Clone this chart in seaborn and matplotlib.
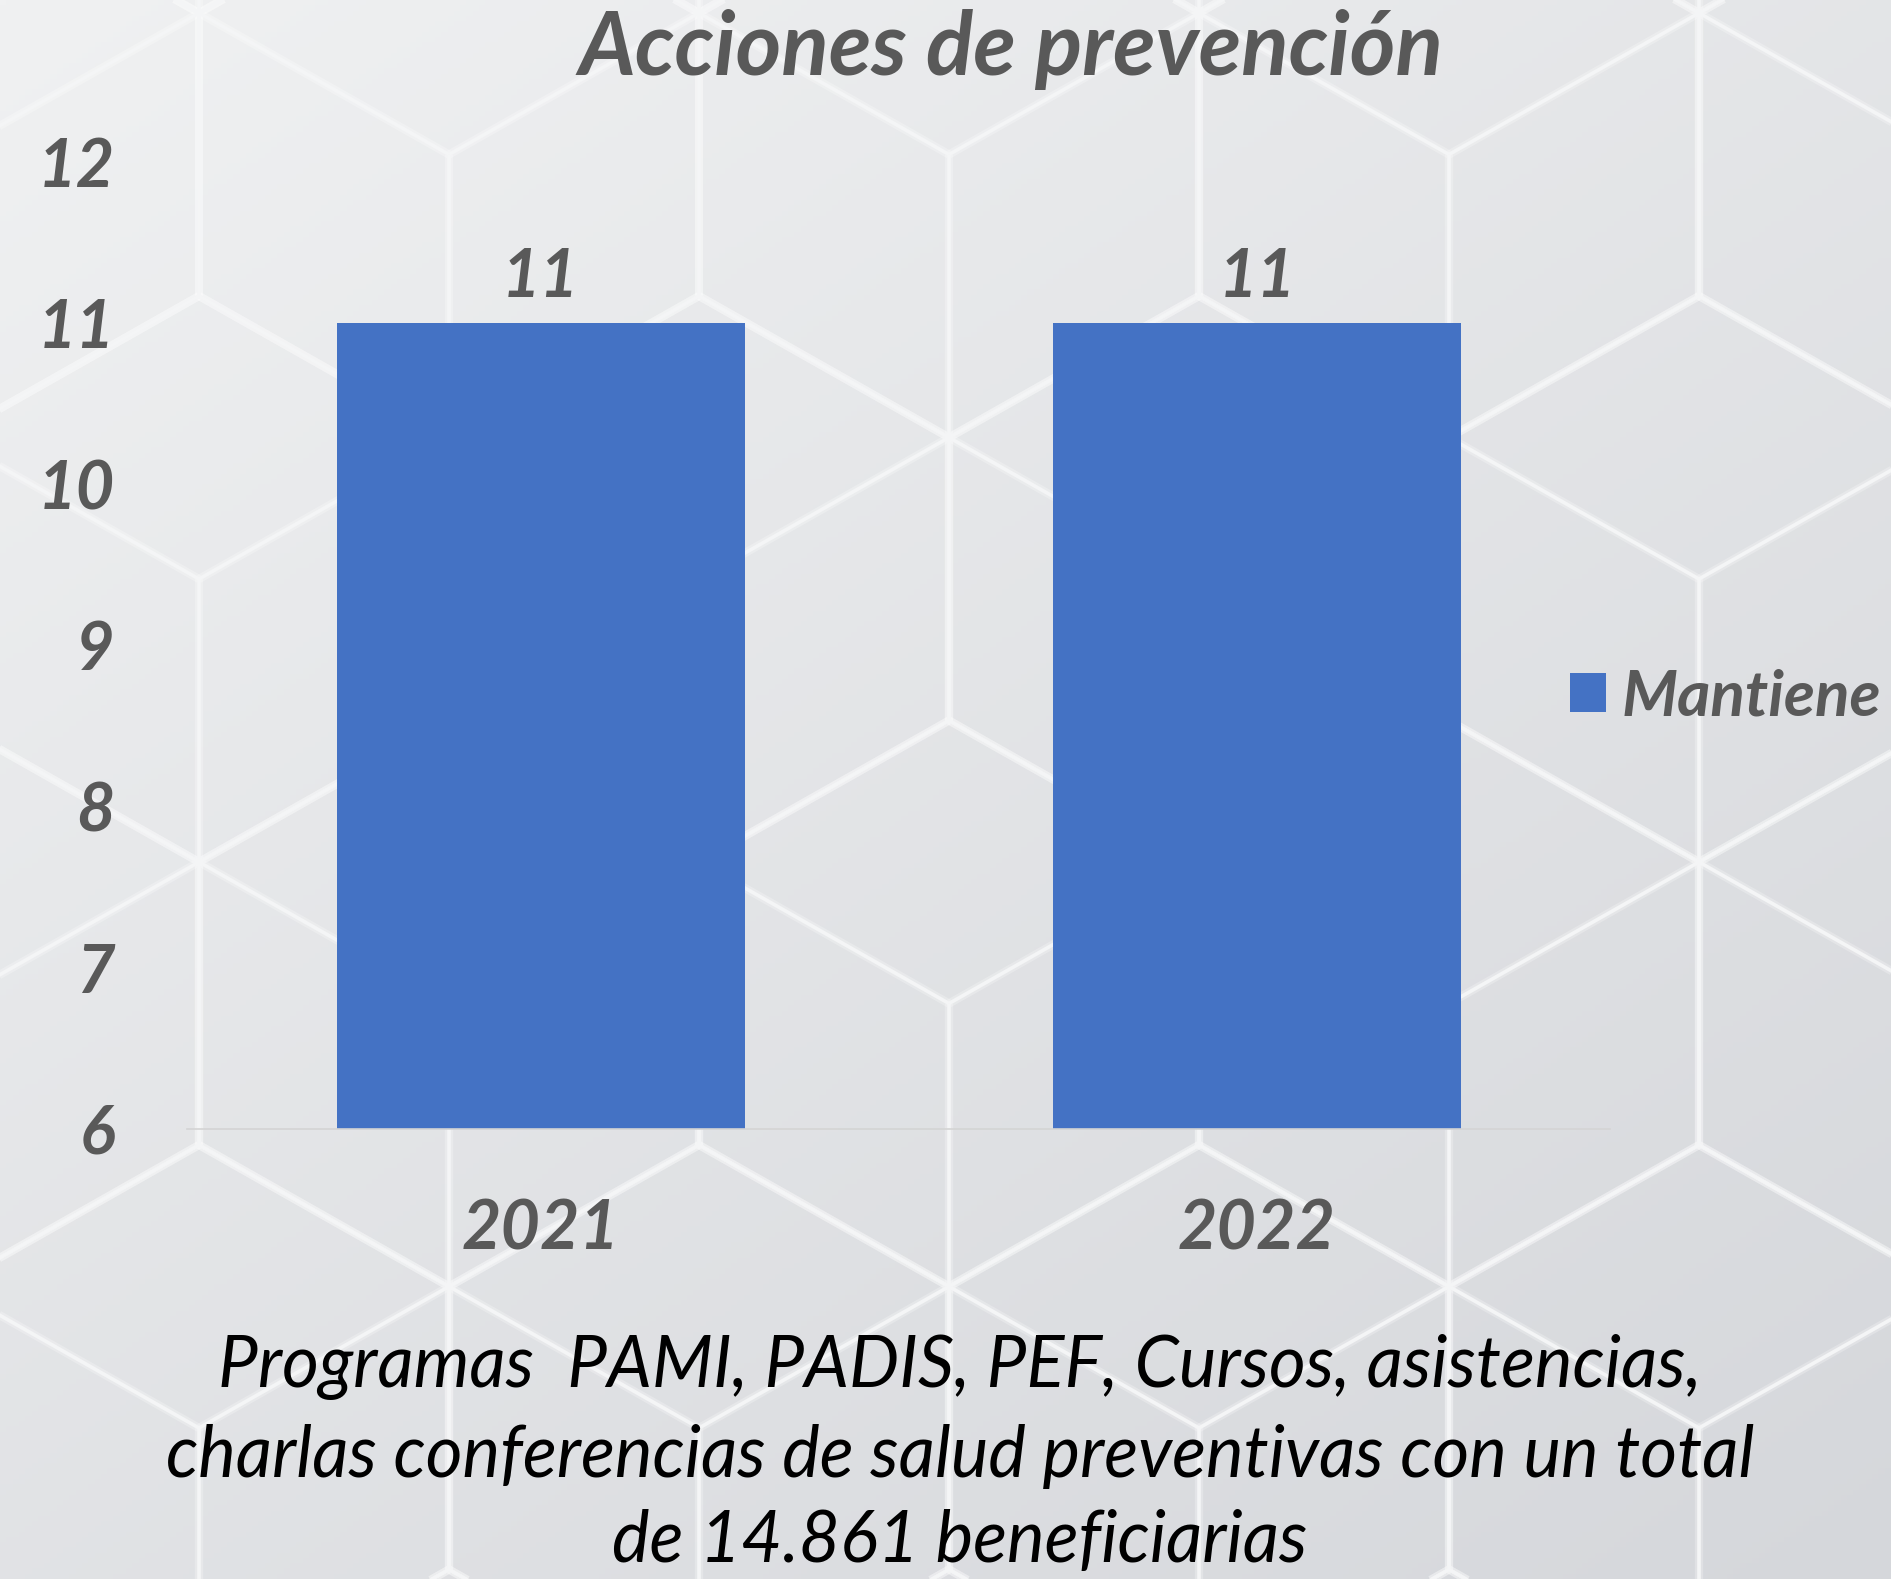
import numpy as np
import pandas as pd

import matplotlib
matplotlib.use("Agg")

import matplotlib.pyplot as plt
from matplotlib.collections import LineCollection
import seaborn as sns

# ===========================
# Data
# ===========================

years = ["2021", "2022"]
values = [11, 11]
series = ["Mantiene", "Mantiene"]
y_ticks = [6, 7, 8, 9, 10, 11, 12]

title = "Acciones de prevención"
note_lines = [
    "Programas  PAMI, PADIS, PEF, Cursos, asistencias,",
    "charlas conferencias de salud preventivas con un total",
    "de 14.861 beneficiarias",
]

df = pd.DataFrame({"year": years, "value": values, "serie": series})

# ===========================
# Style
# ===========================

bar_color = "#4472C4"
text_gray = "#595959"

W, H = 1891, 1579

sns.set_style("white")
plt.rcParams["font.family"] = ["Lato", "DejaVu Sans"]

fig = plt.figure(figsize=(W / 100, H / 100), dpi=100)

# ===========================
# Background (gradient + cube pattern)
# ===========================

bg = fig.add_axes([0, 0, 1, 1], zorder=0)
xx, yy = np.meshgrid(np.linspace(0, 1, 300), np.linspace(0, 1, 300))
t = 0.55 * yy + 0.45 * xx
c_top = np.array([240, 241, 242]) / 255
c_bot = np.array([213, 215, 219]) / 255
img = c_top + (c_bot - c_top) * t[..., None]
bg.imshow(img, extent=[0, W, H, 0], aspect="auto")

hw, s = 250, 283
segs = []
for j in range(-2, 6):
    for i in range(-2, 6):
        cx = 199 + 2 * hw * i + (hw if j % 2 else 0)
        cy = 579 + 1.5 * s * j
        v = [(cx, cy - s), (cx + hw, cy - s / 2), (cx + hw, cy + s / 2),
             (cx, cy + s), (cx - hw, cy + s / 2), (cx - hw, cy - s / 2)]
        for k in range(6):
            segs.append([v[k], v[(k + 1) % 6]])
        segs.append([(cx, cy), v[5]])
        segs.append([(cx, cy), v[1]])
        segs.append([(cx, cy), v[3]])
bg.add_collection(LineCollection(segs, colors="white", linewidths=6, alpha=0.25))
bg.add_collection(LineCollection(segs, colors="#f4f5f6", linewidths=2.6))
bg.set_xlim(0, W)
bg.set_ylim(H, 0)
bg.axis("off")

# ===========================
# Bar chart
# ===========================

ax = fig.add_axes([187 / W, 1 - 1129 / H, (1610 - 187) / W, (1129 - 162) / H], zorder=1)
ax.patch.set_alpha(0)

sns.barplot(
    data=df,
    x="year",
    y="value",
    hue="serie",
    palette=[bar_color],
    saturation=1,
    width=0.57,
    linewidth=0,
    ax=ax,
)

ax.set_ylim(6, 12)
ax.set_xlim(-0.494, 1.493)
ax.set_yticks(y_ticks)
ax.set_yticklabels([str(v) for v in y_ticks])
ax.set_xlabel("")
ax.set_ylabel("")

for lab in ax.get_yticklabels() + ax.get_xticklabels():
    lab.set_fontweight("bold")
    lab.set_fontstyle("italic")
    lab.set_color(text_gray)
for lab in ax.get_yticklabels():
    lab.set_fontsize(48)
for lab in ax.get_xticklabels():
    lab.set_fontsize(49)

ax.tick_params(axis="y", length=0, pad=52)
ax.tick_params(axis="x", length=0, pad=50)

for side in ["left", "top", "right"]:
    ax.spines[side].set_visible(False)
ax.spines["bottom"].set_color("#d4d4d4")
ax.spines["bottom"].set_linewidth(1.2)

ax.bar_label(
    ax.containers[0],
    padding=11,
    fontsize=48,
    fontweight="bold",
    fontstyle="italic",
    color=text_gray,
)

handles, labels = ax.get_legend_handles_labels()
ax.legend(
    handles,
    labels,
    loc="center left",
    bbox_to_anchor=(1570 / W, 1 - 697 / H),
    bbox_transform=fig.transFigure,
    frameon=False,
    prop=dict(family="Lato", size=46, weight="bold", style="italic"),
    labelcolor=text_gray,
    handlelength=0.56,
    handleheight=0.56,
    handletextpad=0.25,
    borderpad=0,
    borderaxespad=0,
)

# ===========================
# Texts
# ===========================

fig.text(1011 / W, 1 - 75 / H, title, ha="center", va="baseline",
         fontsize=63, fontweight="bold", fontstyle="italic", color=text_gray)

for line, base in zip(note_lines, [1387, 1477, 1562]):
    fig.text(960 / W, 1 - base / H, line, ha="center", va="baseline",
             fontsize=51, fontstyle="italic", color="black")

fig.savefig("out.png", dpi=100)
plt.close()
